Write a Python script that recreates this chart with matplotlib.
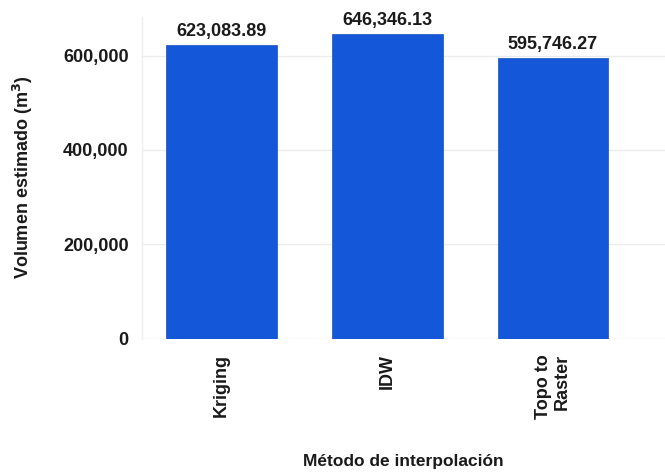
import matplotlib.pyplot as plt
from matplotlib.ticker import FuncFormatter

plt.rcParams['font.family'] = ['Liberation Sans', 'DejaVu Sans']
plt.rcParams['font.weight'] = 'bold'

metodos = ['Kriging', 'IDW', 'Topo to\nRaster']
volumenes = [623083.89, 646346.13, 595746.27]
etiquetas = ['623,083.89', '646,346.13', '595,746.27']
y_ticks = [0, 200000, 400000, 600000]

fig = plt.figure(figsize=(6.65, 4.72), dpi=100)
ax = fig.add_axes([0.2135, 0.2828, 0.7865, 0.6812])

x = list(range(len(metodos)))
ax.bar(x, volumenes, width=0.668, color='#1557d9', edgecolor='#2a5fc4', linewidth=0.6, zorder=3)

for xi, v, lab in zip(x, volumenes, etiquetas):
    ax.annotate(lab, (xi, v), xytext=(0, 6.5), textcoords='offset points',
                ha='center', va='baseline', fontsize=13, fontweight='bold', color='#1a1a1a')

ax.set_xlim(-0.48, 2.677)
ax.set_ylim(0, 682000)
ax.set_yticks(y_ticks)
ax.yaxis.set_major_formatter(FuncFormatter(lambda v, p: f'{int(v):,}'))
ax.set_xticks(x)
ax.set_xticklabels(metodos, rotation=90, ha='center', va='top', multialignment='right')

ax.tick_params(axis='y', length=0, pad=9.5, labelsize=13, labelcolor='#1a1a1a')
ax.tick_params(axis='x', length=0, pad=11, labelsize=13, labelcolor='#1a1a1a')
ax.grid(axis='y', color='#ececec', linewidth=1, zorder=0)

for side in ['top', 'right', 'bottom']:
    ax.spines[side].set_visible(False)
ax.spines['left'].set_color('#efefef')
ax.spines['left'].set_linewidth(1)

ax.set_ylabel('Volumen estimado (m$^\\mathbf{3}$)', fontsize=13, fontweight='bold', color='#1a1a1a', va='center')
ax.yaxis.set_label_coords(-0.2275, 0.5)
ax.set_xlabel('Método de interpolación', fontsize=12.5, fontweight='bold', color='#1a1a1a', va='center')
ax.xaxis.set_label_coords(0.5, -0.384)

fig.savefig('out.png', dpi=100)
